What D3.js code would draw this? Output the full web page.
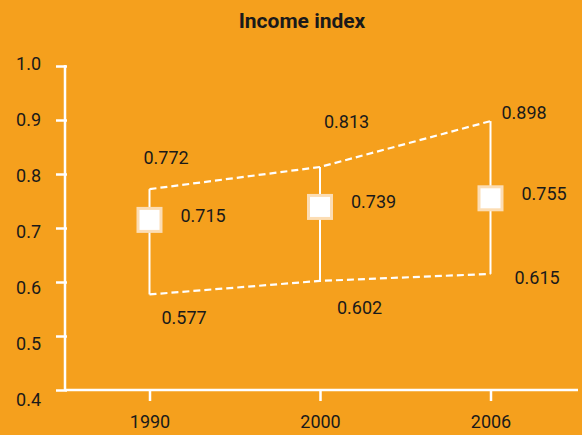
<!DOCTYPE html>
<html>
<head>
<meta charset="utf-8">
<script src="https://cdn.jsdelivr.net/npm/d3@7"></script>
<style>
  body { margin: 0; background: #F5A01D; }
  svg text { font-family: Roboto, "Liberation Sans", sans-serif; fill: #1a1a1a; }
</style>
</head>
<body>
<script>
var years = ["1990", "2000", "2006"];
var maxValues = [0.772, 0.813, 0.898];
var meanValues = [0.715, 0.739, 0.755];
var minValues = [0.577, 0.602, 0.615];
var yTicks = [0.4, 0.5, 0.6, 0.7, 0.8, 0.9, 1.0];

// label nudges (dx, dy)
var maxNudge = [[-6, -25], [4, -39], [11, -2]];
var meanNudge = [[31, 2], [31, 1], [31, 2]];
var minNudge = [[12, 30], [17, 33], [24, 10]];

var w = 582, h = 435;
var white = "#ffffff";
var fs = "18px";

var svg = d3.select("body")
    .append("svg")
    .attr("width", w)
    .attr("height", h)
    .style("background-color", "#F5A01D");

var x = d3.scalePoint()
    .domain(years)
    .range([149.5, 490.5]);

var y = d3.scaleLinear()
    .domain([0.4, 1.0])
    .range([390, 66]);

// the tick labels in the reference are spread a little wider than the ticks
var yLab = d3.scaleLinear()
    .domain([0.4, 1.0])
    .range([399.5, 64]);

svg.append("text")
    .attr("x", 302)
    .attr("y", 28)
    .attr("text-anchor", "middle")
    .style("font-weight", "bold")
    .style("font-size", "21px")
    .text("Income index");

// axes
var yAxis = svg.append("g")
    .attr("transform", "translate(65,0)")
    .call(d3.axisLeft(y).tickValues(yTicks).tickFormat("").tickSize(9));

var xAxis = svg.append("g")
    .attr("transform", "translate(0,390)")
    .call(d3.axisBottom(x).tickSize(11).tickPadding(14));

[yAxis, xAxis].forEach(function(a){
    a.select(".domain").remove();
    a.selectAll("line").attr("stroke", white).attr("stroke-width", 2.5);
    a.selectAll("text").style("font-size", fs).attr("fill", "#1a1a1a");
});
yAxis.selectAll("line").attr("x2", -9).attr("x1", 2);

svg.selectAll(".ylab")
    .data(yTicks)
    .enter()
    .append("text")
    .attr("class", "ylab")
    .attr("x", 41)
    .attr("y", function(d){ return yLab(d); })
    .attr("dy", "0.35em")
    .attr("text-anchor", "end")
    .style("font-size", fs)
    .text(d3.format(".1f"));

svg.append("line")
    .attr("x1", 65).attr("x2", 65)
    .attr("y1", y(1.0) - 1).attr("y2", y(0.4))
    .attr("stroke", white).attr("stroke-width", 2.5);
svg.append("line")
    .attr("x1", 65).attr("x2", 578)
    .attr("y1", y(0.4)).attr("y2", y(0.4))
    .attr("stroke", white).attr("stroke-width", 2.5);

// range lines
svg.selectAll(".range")
    .data(years)
    .enter()
    .append("line")
    .attr("class", "range")
    .attr("x1", function(d){ return x(d); })
    .attr("x2", function(d){ return x(d); })
    .attr("y1", function(d, i){ return y(maxValues[i]); })
    .attr("y2", function(d, i){ return y(minValues[i]); })
    .attr("stroke", white)
    .attr("stroke-width", 2);

var line = d3.line()
    .x(function(d, i){ return x(years[i]); })
    .y(function(d){ return y(d); });

[maxValues, minValues].forEach(function(vals){
    svg.append("path")
        .datum(vals)
        .attr("d", line)
        .attr("fill", "none")
        .attr("stroke", white)
        .attr("stroke-width", 2.2)
        .attr("stroke-dasharray", "7,4");
});

// mean squares
svg.selectAll(".mean")
    .data(meanValues)
    .enter()
    .append("rect")
    .attr("class", "mean")
    .attr("x", function(d, i){ return x(years[i]) - 11.5; })
    .attr("y", function(d){ return y(d) - 11.5; })
    .attr("width", 23)
    .attr("height", 23)
    .attr("fill", white)
    .attr("stroke", "#FCDDB4")
    .attr("stroke-width", 3);

// value labels
function addLabels(vals, nudge){
    svg.selectAll(null)
        .data(vals)
        .enter()
        .append("text")
        .attr("x", function(d, i){ return x(years[i]) + nudge[i][0]; })
        .attr("y", function(d, i){ return y(d) + nudge[i][1]; })
        .style("font-size", fs)
        .text(function(d){ return d3.format(".3f")(d); });
}
addLabels(maxValues, maxNudge);
addLabels(meanValues, meanNudge);
addLabels(minValues, minNudge);
</script>
</body>
</html>
